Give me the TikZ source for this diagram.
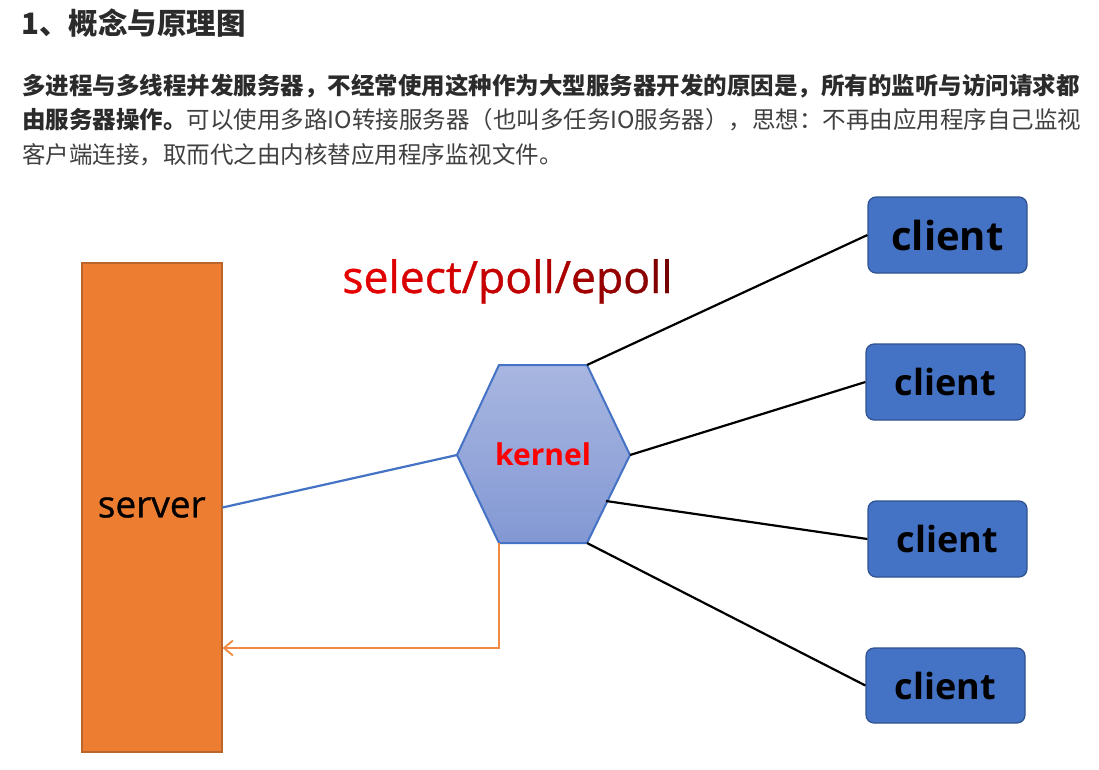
\documentclass[tikz,border=0pt]{standalone}
\usepackage{fontspec}
\newfontfamily\cjkfont{Noto Sans CJK SC}
\newfontfamily\labfont{Open Sans}
\newfontfamily\labfontm{Open Sans}[FakeBold=0.8]
\usetikzlibrary{arrows.meta}
\definecolor{txtdark}{HTML}{2B2B2B}
\definecolor{txtreg}{HTML}{404040}
\definecolor{srvfill}{HTML}{ED7D31}
\definecolor{srvdraw}{HTML}{B9652B}
\definecolor{clifill}{HTML}{4472C4}
\definecolor{clidraw}{HTML}{2F528F}
\definecolor{hexline}{HTML}{4472C4}
\definecolor{hextop}{HTML}{A8B6E0}
\definecolor{hexbot}{HTML}{8398D4}
\definecolor{selA}{HTML}{E60000}
\definecolor{selB}{HTML}{750000}
\definecolor{arrorange}{HTML}{F08A45}
\newcommand\selch[2]{{\color{selA!#1!selB}#2}}
\begin{document}
\begin{tikzpicture}[x=1pt,y=-1pt,
  txtline/.style={anchor=base west,inner sep=0pt,font=\cjkfont\fontsize{23.5}{28}\selectfont},
  serverbox/.style={draw=srvdraw,fill=srvfill,line width=1.5pt,minimum width=140pt,minimum height=489pt,inner sep=0pt,
     font=\labfontm\fontsize{37}{40}\selectfont,text=black},
  clientbox/.style={draw=clidraw,fill=clifill,line width=1.2pt,rounded corners=8pt,minimum width=159pt,minimum height=76pt,inner sep=0pt,
     text=black},
  kernelhex/.style={draw=hexline,line width=2pt,top color=hextop,bottom color=hexbot},
  blueconn/.style={draw=hexline,line width=2.2pt},
  blackconn/.style={draw=black,line width=2.2pt},
  retconn/.style={draw=arrorange,line width=2pt,-{Straight Barb[length=9pt,width=15pt,line width=1.8pt]}}
]
\useasboundingbox (0,0) rectangle (1099,770);
\fill[white] (0,0) rectangle (1099,770);

% header text
\node[anchor=base west,inner sep=0pt,text=txtdark,font=\cjkfont\bfseries\fontsize{29.5}{34}\selectfont] (title) at (21,35) {1、概念与原理图};
\node[txtline,text=txtdark] (line1) at (22,95) {\bfseries 多进程与多线程并发服务器，不经常使用这种作为大型服务器开发的原因是，所有的监听与访问请求都};
\node[txtline,text=txtreg] (line2) at (22,129) {{\bfseries\color{txtdark}由服务器操作。}可以使用多路IO转接服务器（也叫多任务IO服务器），思想：不再由应用程序自己监视};
\node[txtline,text=txtreg] (line3) at (22,164) {客户端连接，取而代之由内核替应用程序监视文件。};

% server
\node[serverbox] (srv) at (151.75,507.5) {server};

% kernel hexagon
\coordinate (hL) at (457,455);
\coordinate (hTL) at (499,365);
\coordinate (hTR) at (587,365);
\coordinate (hR) at (630,455);
\coordinate (hBR) at (587,543);
\coordinate (hBL) at (499,543);
\coordinate (hE) at (606,501);
\path[kernelhex] (hL) -- (hTL) -- (hTR) -- (hR) -- (hBR) -- (hBL) -- cycle;
\node[inner sep=0pt,text=red,font=\labfont\bfseries\fontsize{30}{33}\selectfont] (kern) at (543,454) {kernel};

% label
\node[anchor=base,inner sep=0pt,font=\labfontm\fontsize{44.5}{48}\selectfont] (sel) at (507.5,293)
  {\selch{100}{s}\selch{97}{e}\selch{94}{l}\selch{90}{e}\selch{86}{c}\selch{82}{t}\selch{78}{/}\selch{72}{p}\selch{66}{o}\selch{60}{l}\selch{54}{l}\selch{48}{/}\selch{40}{e}\selch{30}{p}\selch{20}{o}\selch{10}{l}\selch{0}{l}};

% clients
\node[clientbox,font=\labfont\bfseries\fontsize{40}{44}\selectfont] (c1) at (947.5,235) {client};
\node[clientbox,font=\labfont\bfseries\fontsize{36}{40}\selectfont] (c2) at (945.5,382) {client};
\node[clientbox,font=\labfont\bfseries\fontsize{36}{40}\selectfont] (c3) at (947.5,539) {client};
\node[clientbox,font=\labfont\bfseries\fontsize{36}{40}\selectfont,minimum height=75pt] (c4) at (945.5,685.5) {client};

% connectors
\draw[blueconn] (srv.east) -- (hL);
\draw[blackconn] (hTR) -- (c1.west);
\draw[blackconn] (hR) -- (c2.west);
\draw[blackconn] (hE) -- (c3.west);
\draw[blackconn] (hBR) -- (c4.west);
\coordinate (ret) at (499,648);
\draw[retconn] (hBL) -- (ret) -- (ret -| srv.east);
\end{tikzpicture}
\end{document}
